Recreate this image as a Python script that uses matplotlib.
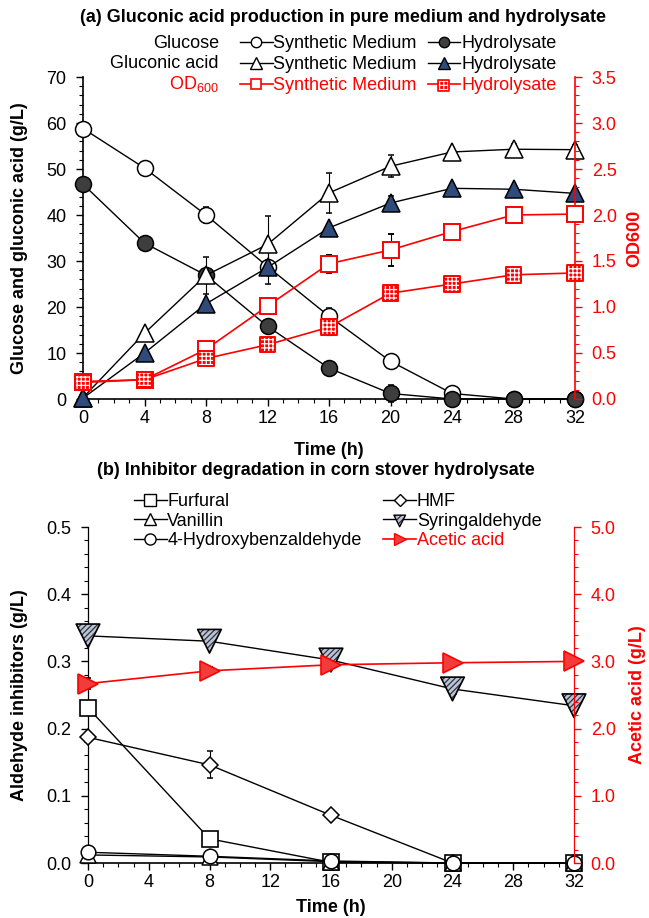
import matplotlib
matplotlib.use("Agg")
import matplotlib.pyplot as plt
from matplotlib.ticker import MultipleLocator, FormatStrFormatter
from matplotlib.lines import Line2D
from matplotlib.legend_handler import HandlerTuple

plt.rcParams['font.family'] = ['Liberation Sans', 'DejaVu Sans']
plt.rcParams['mathtext.default'] = 'regular'
plt.rcParams['hatch.linewidth'] = 0.9

# ---- (a) data ----
time_a = [0, 4, 8, 12, 16, 20, 24, 28, 32]
glc_sm = [58.8, 50.2, 40.0, 28.8, 18.0, 8.2, 1.2, 0.0, 0.0]
glc_sm_err = [0.6, 0.5, 1.8, 1.5, 1.8, 1.0, 1.5, 0.0, 0.0]
glc_hy = [46.7, 33.9, 26.9, 15.8, 6.7, 1.2, 0.0, 0.0, 0.0]
glc_hy_err = [0.8, 0.5, 1.0, 0.5, 1.0, 1.8, 0.0, 0.0, 0.0]
gla_sm = [0.3, 14.3, 26.9, 33.6, 44.8, 50.6, 53.7, 54.3, 54.2]
gla_sm_err = [0.0, 0.5, 4.0, 6.2, 4.4, 2.4, 0.5, 1.2, 1.0]
gla_hy = [0.2, 10.0, 20.7, 28.6, 37.2, 42.6, 45.8, 45.6, 44.7]
gla_hy_err = [0.0, 0.3, 0.8, 3.5, 0.5, 1.5, 0.5, 0.3, 0.3]
od_sm = [0.19, 0.21, 0.54, 1.01, 1.47, 1.62, 1.82, 2.00, 2.01]
od_sm_err = [0.02, 0.02, 0.06, 0.02, 0.10, 0.17, 0.05, 0.05, 0.04]
od_hy = [0.18, 0.21, 0.44, 0.59, 0.78, 1.15, 1.25, 1.35, 1.37]
od_hy_err = [0.02, 0.01, 0.02, 0.02, 0.08, 0.02, 0.02, 0.02, 0.02]

# ---- (b) data ----
time_b = [0, 8, 16, 24, 32]
furfural = [0.231, 0.036, 0.001, 0.0, 0.0]
furfural_err = [0.01, 0.005, 0.0, 0.0, 0.0]
hmf = [0.187, 0.146, 0.071, 0.0, 0.0]
hmf_err = [0.006, 0.02, 0.004, 0.0, 0.0]
vanillin = [0.012, 0.009, 0.002, 0.0, 0.0]
syring = [0.338, 0.330, 0.302, 0.259, 0.234]
syring_err = [0.004, 0.003, 0.004, 0.008, 0.003]
hba = [0.016, 0.010, 0.003, 0.0, 0.0]
acetic = [2.67, 2.86, 2.95, 2.98, 3.00]
acetic_err = [0.08, 0.05, 0.03, 0.03, 0.02]

RED = '#ff0000'
FS = 13
W, H = 649, 918


def noclip(cont):
    for art in cont.get_children():
        art.set_clip_on(False)
    return cont


def style_axes(a, a2, spine_w):
    for x in (a, a2):
        x.spines['top'].set_visible(False)
    a.spines['right'].set_visible(False)
    a2.spines['left'].set_visible(False)
    a2.spines['bottom'].set_visible(False)
    a2.spines['right'].set_color(RED)
    a.spines['left'].set_linewidth(spine_w)
    a.spines['bottom'].set_linewidth(1.2)
    a2.spines['right'].set_linewidth(spine_w)
    a.tick_params(axis='x', which='major', direction='out', length=5, width=1.0,
                  labelsize=FS, pad=3)
    a.tick_params(axis='x', which='minor', direction='out', length=3, width=0.8)
    a.tick_params(axis='y', which='major', direction='out', length=5, width=1.0,
                  labelsize=FS, pad=7)
    a.tick_params(axis='y', which='minor', direction='out', length=3, width=0.8)
    a2.tick_params(axis='y', which='major', direction='out', length=5, width=1.0,
                   labelsize=FS, pad=7, colors=RED)
    a2.tick_params(axis='y', which='minor', direction='out', length=3, width=0.8, colors=RED)


fig = plt.figure(figsize=(W / 100, H / 100), dpi=100)
eb = dict(capsize=2, ecolor='black', elinewidth=0.8, capthick=0.8)

# ================= panel (a) =================
ax = fig.add_axes([83 / W, 1 - 399 / H, (575 - 83) / W, (399 - 77) / H])
ax2 = ax.twinx()

noclip(ax.errorbar(time_a, glc_sm, yerr=glc_sm_err, color='black', lw=1.0, marker='o',
                   ms=11.5, mfc='white', mec='black', mew=1.1, zorder=3, **eb))
noclip(ax.errorbar(time_a, glc_hy, yerr=glc_hy_err, color='black', lw=1.0, marker='o',
                   ms=11.5, mfc='#3e3e3e', mec='black', mew=1.1, zorder=3, **eb))
noclip(ax.errorbar(time_a, gla_sm, yerr=gla_sm_err, color='black', lw=1.0, marker='^',
                   ms=12.5, mfc='white', mec='black', mew=1.1, zorder=3, **eb))
noclip(ax.errorbar(time_a, gla_hy, yerr=gla_hy_err, color='black', lw=1.0, marker='^',
                   ms=12.5, mfc='#2f4b7c', mec='black', mew=1.1, zorder=3, **eb))

noclip(ax2.errorbar(time_a, od_sm, yerr=od_sm_err, color=RED, lw=1.2, marker='s',
                    ms=11, mfc='white', mec=RED, mew=1.4, zorder=3, **eb))
noclip(ax2.errorbar(time_a, od_hy, yerr=od_hy_err, color=RED, lw=1.2, zorder=2, **eb))
sc = ax2.scatter(time_a, od_hy, s=125, marker='s', facecolor=RED, edgecolor='white',
                 hatch='++++', linewidths=0, zorder=4)
sc.set_clip_on(False)
sc = ax2.scatter(time_a, od_hy, s=125, marker='s', facecolor='none', edgecolor=RED,
                 linewidths=1.4, zorder=5)
sc.set_clip_on(False)

ax.set_xlim(0, 32)
ax.set_ylim(0, 70)
ax2.set_ylim(0, 3.5)
ax.xaxis.set_major_locator(MultipleLocator(4))
ax.xaxis.set_minor_locator(MultipleLocator(1))
ax.yaxis.set_major_locator(MultipleLocator(10))
ax.yaxis.set_minor_locator(MultipleLocator(2))
ax2.yaxis.set_major_locator(MultipleLocator(0.5))
ax2.yaxis.set_minor_locator(MultipleLocator(0.1))
ax2.yaxis.set_major_formatter(FormatStrFormatter('%.1f'))
style_axes(ax, ax2, 1.2)

ax.set_xlabel('Time (h)', fontsize=FS, fontweight='bold', labelpad=11)
ax.set_ylabel('Glucose and gluconic acid (g/L)', fontsize=FS, fontweight='bold')
ax.yaxis.set_label_coords(-0.112, 0.5)
ax2.set_ylabel('OD600', fontsize=FS, fontweight='bold', color=RED)
ax2.yaxis.set_label_coords(1.105, 0.5)

fig.text(343 / W, 1 - 18 / H, '(a) Gluconic acid production in pure medium and hydrolysate',
         ha='center', va='center', fontsize=FS, fontweight='bold')

# legend proxies (small markers, no error bars)
h_glc_sm = Line2D([], [], color='black', lw=1.0, marker='o', ms=7.5, mfc='white', mec='black')
h_gla_sm = Line2D([], [], color='black', lw=1.0, marker='^', ms=8, mfc='white', mec='black')
h_od_sm = Line2D([], [], color=RED, lw=1.2, marker='s', ms=7.5, mfc='white', mec=RED, mew=1.2)
h_glc_hy = Line2D([], [], color='black', lw=1.0, marker='o', ms=7.5, mfc='#3e3e3e', mec='black')
h_gla_hy = Line2D([], [], color='black', lw=1.0, marker='^', ms=8, mfc='#2f4b7c', mec='black')
h_od_line = Line2D([], [], color=RED, lw=1.2)
h_od_fill = ax2.scatter([], [], s=60, marker='s', facecolor=RED, edgecolor='white',
                        hatch='++++', linewidths=0)
h_od_edge = ax2.scatter([], [], s=60, marker='s', facecolor='none', edgecolor=RED,
                        linewidths=1.2)

handles_a = [h_glc_sm, h_gla_sm, h_od_sm, h_glc_hy, h_gla_hy, (h_od_line, h_od_fill, h_od_edge)]
labels_a = ['Synthetic Medium', 'Synthetic Medium', 'Synthetic Medium',
            'Hydrolysate', 'Hydrolysate', 'Hydrolysate']
leg = fig.legend(handles_a, labels_a, ncol=2, loc='upper left',
                 bbox_to_anchor=(240 / W, 1 - 35 / H), frameon=False, fontsize=FS,
                 handlelength=1.8, handletextpad=0.05, columnspacing=0.6, labelspacing=0.22,
                 borderaxespad=0, borderpad=0, scatterpoints=1,
                 handler_map={tuple: HandlerTuple(ndivide=1, pad=0)})
for i, t in enumerate(leg.get_texts()):
    if i in (2, 5):
        t.set_color(RED)

row_y = [43, 63, 84]
fig.text(219 / W, 1 - row_y[0] / H, 'Glucose', ha='right', va='center', fontsize=FS)
fig.text(219 / W, 1 - row_y[1] / H, 'Gluconic acid', ha='right', va='center', fontsize=FS)
fig.text(219 / W, 1 - row_y[2] / H, 'OD$_{600}$', ha='right', va='center', fontsize=FS,
         color=RED)

# ================= panel (b) =================
bx = fig.add_axes([88 / W, 1 - 863 / H, (574 - 88) / W, (863 - 527) / H])
bx2 = bx.twinx()

noclip(bx.errorbar(time_b, furfural, yerr=furfural_err, color='black', lw=1.0, marker='s',
                   ms=11, mfc='white', mec='black', mew=1.2, zorder=3, **eb))
noclip(bx.errorbar(time_b, hmf, yerr=hmf_err, color='black', lw=1.0, marker='D',
                   ms=8, mfc='white', mec='black', mew=1.1, zorder=3, **eb))
noclip(bx.errorbar(time_b, vanillin, color='black', lw=1.0, marker='^',
                   ms=11, mfc='white', mec='black', mew=1.1, zorder=3))
noclip(bx.errorbar(time_b, hba, color='black', lw=1.0, marker='o',
                   ms=10.5, mfc='white', mec='black', mew=1.1, zorder=3))
noclip(bx.errorbar(time_b, syring, yerr=syring_err, color='black', lw=1.0, zorder=2, **eb))
sc = bx.scatter(time_b, syring, s=290, marker='v', facecolor='#b9c3da', edgecolor='#333333',
                hatch='//////', linewidths=0, zorder=4)
sc.set_clip_on(False)
sc = bx.scatter(time_b, syring, s=290, marker='v', facecolor='none', edgecolor='black',
                linewidths=1.2, zorder=5)
sc.set_clip_on(False)

noclip(bx2.errorbar(time_b, acetic, yerr=acetic_err, color=RED, lw=1.2, marker='>',
                    ms=14, mfc='#f23c3c', mec=RED, mew=1.2, zorder=3, **eb))

bx.set_xlim(0, 32)
bx.set_ylim(0, 0.5)
bx2.set_ylim(0, 5.0)
bx.xaxis.set_major_locator(MultipleLocator(4))
bx.xaxis.set_minor_locator(MultipleLocator(1))
bx.yaxis.set_major_locator(MultipleLocator(0.1))
bx.yaxis.set_minor_locator(MultipleLocator(0.02))
bx.yaxis.set_major_formatter(FormatStrFormatter('%.1f'))
bx2.yaxis.set_major_locator(MultipleLocator(1.0))
bx2.yaxis.set_minor_locator(MultipleLocator(0.2))
bx2.yaxis.set_major_formatter(FormatStrFormatter('%.1f'))
style_axes(bx, bx2, 0.9)

bx.set_xlabel('Time (h)', fontsize=FS, fontweight='bold', labelpad=6)
bx.set_ylabel('Aldehyde inhibitors (g/L)', fontsize=FS, fontweight='bold')
bx.yaxis.set_label_coords(-0.124, 0.5)
bx2.set_ylabel('Acetic acid (g/L)', fontsize=FS, fontweight='bold', color=RED)
bx2.yaxis.set_label_coords(1.113, 0.5)

fig.text(316 / W, 1 - 471 / H, '(b) Inhibitor degradation in corn stover hydrolysate',
         ha='center', va='center', fontsize=FS, fontweight='bold')

hb_fur = Line2D([], [], color='black', lw=1.0, marker='s', ms=8, mfc='white', mec='black')
hb_van = Line2D([], [], color='black', lw=1.0, marker='^', ms=8.5, mfc='white', mec='black')
hb_hba = Line2D([], [], color='black', lw=1.0, marker='o', ms=8, mfc='white', mec='black')
hb_hmf = Line2D([], [], color='black', lw=1.0, marker='D', ms=6, mfc='white', mec='black')
hb_syr_line = Line2D([], [], color='black', lw=1.0)
hb_syr_fill = bx.scatter([], [], s=70, marker='v', facecolor='#b9c3da', edgecolor='#333333',
                         hatch='//////', linewidths=0)
hb_syr_edge = bx.scatter([], [], s=70, marker='v', facecolor='none', edgecolor='black',
                         linewidths=1.0)
hb_ace = Line2D([], [], color=RED, lw=1.2, marker='>', ms=9, mfc='#f23c3c', mec=RED)

handles_b = [hb_fur, hb_van, hb_hba, hb_hmf, (hb_syr_line, hb_syr_fill, hb_syr_edge), hb_ace]
labels_b = ['Furfural', 'Vanillin', '4-Hydroxybenzaldehyde', 'HMF', 'Syringaldehyde', 'Acetic acid']
leg_b = fig.legend(handles_b, labels_b, ncol=2, loc='upper left',
                   bbox_to_anchor=(134 / W, 1 - 493 / H), frameon=False, fontsize=FS,
                   handlelength=1.8, handletextpad=0.05, columnspacing=1.2, labelspacing=0.15,
                   borderaxespad=0, borderpad=0, scatterpoints=1,
                   handler_map={tuple: HandlerTuple(ndivide=1, pad=0)})
leg_b.get_texts()[5].set_color(RED)

fig.savefig('out.png', dpi=100)
